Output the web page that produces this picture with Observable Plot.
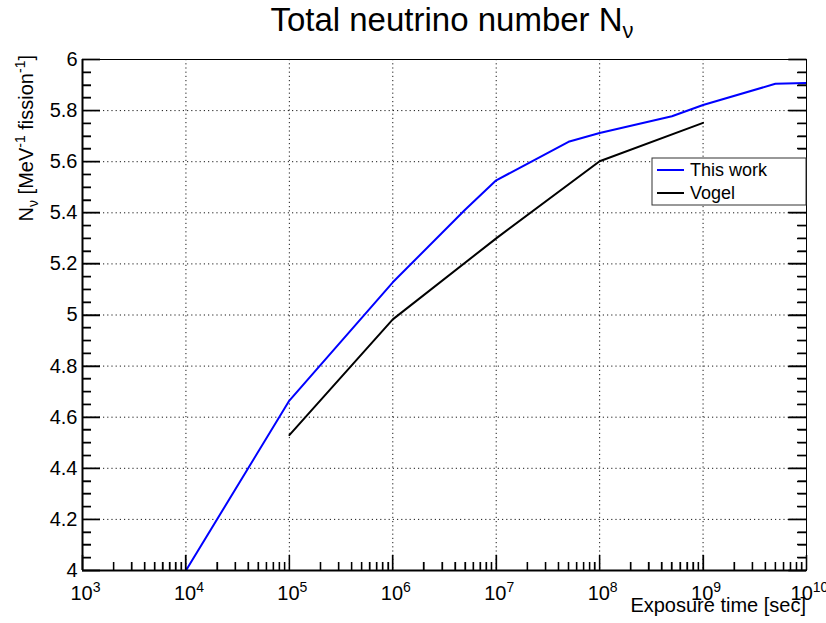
<!DOCTYPE html>
<html><head><meta charset="utf-8">
<script src="https://cdn.jsdelivr.net/npm/d3@7"></script>
<script src="https://cdn.jsdelivr.net/npm/@observablehq/plot@0.6"></script>
<style>body{margin:0;background:#fff} #chart{width:826px;height:623px}</style>
</head><body><div id="chart"></div>
<script>
// ---- data ----
const thisWorkTime = [1e4, 1e5, 1e6, 5e6, 1e7, 5e7, 1e8, 5e8, 1e9, 5e9, 1e10];
const thisWorkN    = [4.0, 4.665, 5.128, 5.412, 5.527, 5.678, 5.712, 5.778, 5.822, 5.905, 5.908];
const vogelTime = [1e5, 1e6, 1e7, 1e8, 1e9];
const vogelN    = [4.53, 4.983, 5.30, 5.602, 5.752];
const xMajor = [1e3, 1e4, 1e5, 1e6, 1e7, 1e8, 1e9, 1e10];
const xMinorMult = [2, 3, 4, 5, 6, 7, 8, 9];
const yMajor = [4, 4.2, 4.4, 4.6, 4.8, 5, 5.2, 5.4, 5.6, 5.8, 6];
const yMajorLabels = ["4", "4.2", "4.4", "4.6", "4.8", "5", "5.2", "5.4", "5.6", "5.8", "6"];
const yMinorStep = 0.05;
const seriesNames = ["This work", "Vogel"];
const seriesColors = ["#0000ff", "#000000"];

// ---- derived tables ----
const W = 826, H = 623, mL = 82, mR = 20, mT = 59, mB = 53;
const xMinor = xMajor.slice(0, -1).flatMap(d => xMinorMult.map(k => k * d));
const yMinor = d3.range(0, Math.round((6 - 4) / yMinorStep) + 1)
  .map(i => +(4 + i * yMinorStep).toFixed(2))
  .filter(v => !yMajor.some(m => Math.abs(m - v) < 1e-9));
const thisWork = thisWorkTime.map((t, i) => ({t, n: thisWorkN[i]}));
const vogel = vogelTime.map((t, i) => ({t, n: vogelN[i]}));
const black = "#000";
const grid = {stroke: black, strokeOpacity: 0.9, strokeDasharray: "1.2,3", strokeWidth: 1};
const tickOnly = {fill: "none", stroke: black, strokeWidth: 1.3, label: null};

const svg = Plot.plot({
  width: W, height: H,
  marginLeft: mL, marginRight: mR, marginTop: mT, marginBottom: mB,
  style: {fontFamily: "'Liberation Sans', Arial, Helvetica, sans-serif", fontSize: "20px", color: "#000", background: "#fff"},
  x: {type: "log", domain: [1e3, 1e10]},
  y: {domain: [4, 6]},
  marks: [
    Plot.gridX(xMajor, grid),
    Plot.gridY(yMajor, grid),
    Plot.line(thisWork, {x: "t", y: "n", stroke: seriesColors[0], strokeWidth: 2, clip: true}),
    Plot.line(vogel, {x: "t", y: "n", stroke: seriesColors[1], strokeWidth: 2, clip: true}),
    Plot.frame({stroke: black, strokeWidth: 1}),
    Plot.ruleX([1e3], {stroke: black, strokeWidth: 2}),
    Plot.ruleY([4], {stroke: black, strokeWidth: 2}),
    Plot.axisY(yMajor, {tickSize: 0, tickPadding: 5, label: null,
      tickFormat: d => yMajorLabels[yMajor.indexOf(d)]}),
    Plot.axisX(xMajor, {tickSize: 0, tickPadding: 15, label: null,
      tickFormat: d => String(Math.round(Math.log10(d)))}),
    // inward ticks (left, right, bottom)
    Plot.axisY(yMinor, {...tickOnly, anchor: "left", tickSize: 9, dx: 9}),
    Plot.axisY(yMajor, {...tickOnly, anchor: "left", tickSize: 18, dx: 18}),
    Plot.axisY(yMinor, {...tickOnly, anchor: "right", tickSize: 9, dx: -9}),
    Plot.axisY(yMajor, {...tickOnly, anchor: "right", tickSize: 18, dx: -18}),
    Plot.axisX(xMinor, {...tickOnly, anchor: "bottom", tickSize: 8, dy: -8}),
    Plot.axisX(xMajor, {...tickOnly, anchor: "bottom", tickSize: 15, dy: -15})
  ]
});
document.getElementById("chart").appendChild(svg);

const s = d3.select(svg);
const sx = svg.scale("x"), sy = svg.scale("y");
const fx0 = mL, fx1 = W - mR, fy1 = H - mB;

// inward ticks also drawn as one path from the plot's own scales
let dPath = "";
const addY = (vals, len) => vals.forEach(v => {
  const y = Math.round(sy.apply(v)) + 0.5;
  dPath += `M${fx0},${y}h${len}M${fx1},${y}h${-len}`;
});
const addX = (vals, len) => vals.forEach(v => {
  const x = Math.round(sx.apply(v)) + 0.5;
  dPath += `M${x},${fy1}v${-len}`;
});
addY(yMinor, 9); addY(yMajor, 18); addX(xMinor, 8); addX(xMajor, 15);
s.append("path").attr("d", dPath).attr("stroke", "#000").attr("stroke-width", 1.3).attr("fill", "none");

// x tick labels as 10^n
s.selectAll('g[aria-label="x-axis tick label"] text').each(function () {
  const e = this.textContent;
  if (!e) return;
  const t = d3.select(this);
  t.text(null).attr("dx", 3);
  t.append("tspan").text("10");
  t.append("tspan").attr("dy", "-0.55em").attr("font-size", "14px").text(e);
});

const FONT = "'Liberation Sans', Arial, Helvetica, sans-serif";
// title
const title = s.append("text").attr("x", 452).attr("y", 31).attr("text-anchor", "middle")
  .attr("font-family", FONT).attr("font-size", 33).attr("fill", "#000");
title.append("tspan").text("Total neutrino number N");
title.append("tspan").attr("dy", 7).attr("font-size", 22).text("ν");

// y axis title
const yl = s.append("text").attr("transform", "translate(33,55) rotate(-90)")
  .attr("text-anchor", "end").attr("font-family", FONT).attr("font-size", 20).attr("fill", "#000");
yl.append("tspan").text("N");
yl.append("tspan").attr("dy", 5).attr("font-size", 14).text("ν");
yl.append("tspan").attr("dy", -5).text(" [MeV");
yl.append("tspan").attr("dy", -8).attr("font-size", 14).text("-1");
yl.append("tspan").attr("dy", 8).text(" fission");
yl.append("tspan").attr("dy", -8).attr("font-size", 14).text("-1");
yl.append("tspan").attr("dy", 8).text("]");

// x axis title
s.append("text").attr("x", 806).attr("y", 612).attr("text-anchor", "end")
  .attr("font-family", FONT).attr("font-size", 20).attr("fill", "#000").text("Exposure time [sec]");

// legend
const lg = s.append("g").attr("text-anchor", "start");
lg.append("rect").attr("x", 652).attr("y", 158).attr("width", 154).attr("height", 47)
  .attr("fill", "#fff").attr("stroke", "#333").attr("stroke-width", 1);
seriesNames.forEach((name, i) => {
  const y = 170 + i * 23;
  lg.append("line").attr("x1", 657).attr("x2", 684).attr("y1", y).attr("y2", y)
    .attr("stroke", seriesColors[i]).attr("stroke-width", 2);
  lg.append("text").attr("x", 690).attr("y", y + 6).attr("text-anchor", "start").attr("font-family", FONT)
    .attr("font-size", 18).attr("fill", "#000").text(name);
});
</script>
</body></html>
